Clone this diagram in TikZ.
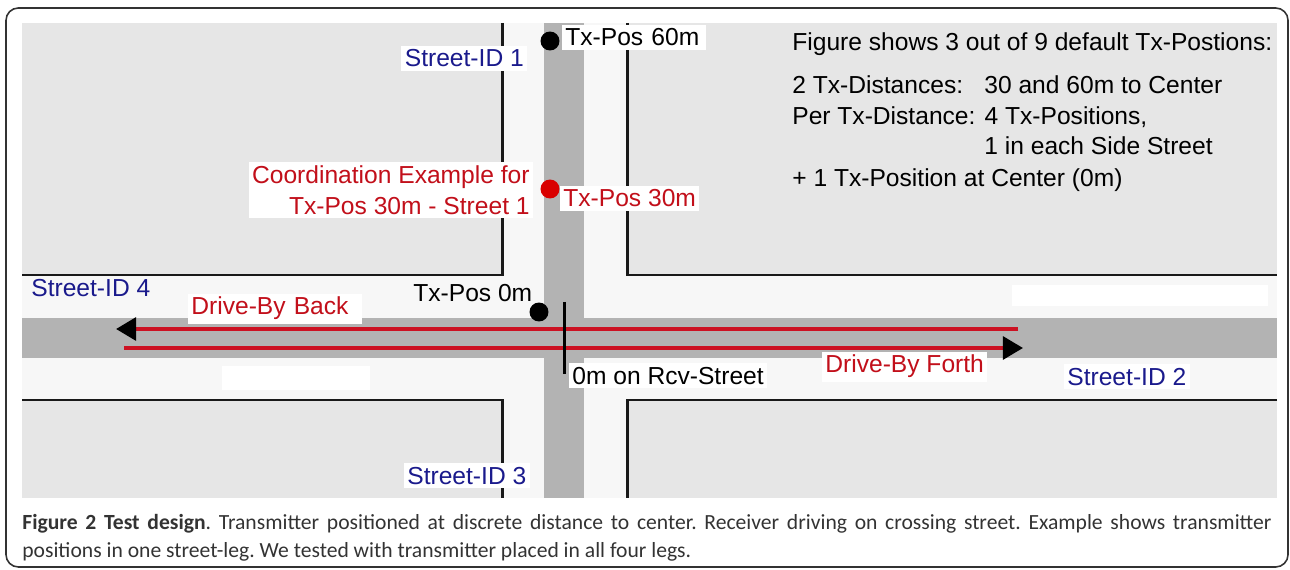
\documentclass[tikz,border=0pt]{standalone}
\usepackage{fontspec}
\setmainfont{Liberation Sans}
\newfontfamily\capfont{Carlito}
\usetikzlibrary{arrows.meta}
\definecolor{road}{HTML}{B3B3B3}
\definecolor{block}{HTML}{E6E6E6}
\definecolor{walk}{HTML}{F7F7F7}
\definecolor{drive}{HTML}{CC1122}
\definecolor{txtred}{HTML}{C20F1A}
\definecolor{txtblue}{HTML}{1A1A8C}
\definecolor{captxt}{HTML}{333333}
\tikzset{
  lbl/.style={fill=white, inner sep=2pt, font=\fontsize{14}{17.4}\selectfont},
  plain/.style={inner sep=0pt, font=\fontsize{14}{17.4}\selectfont},
  dot/.style={circle, fill=#1, minimum size=10.8pt, inner sep=0pt},
  wall/.style={line width=1.7pt, black!90},
  drivepath/.style={drive, line width=2.3pt, -{Triangle[length=11.5pt, width=13pt, color=black]}}
}
\begin{document}
\begin{tikzpicture}[x=0.02cm, y=-0.02cm]
\useasboundingbox (0,0) rectangle (1290,570);
\draw [rounded corners=7pt, line width=0.9pt, black!80] (6,8) rectangle (1288,567);

% map
\fill [walk] (22,23) rectangle (1277,498);
\begin{scope}
\fill [block] (22,23) rectangle (502,275);
\fill [block] (627,23) rectangle (1277,275);
\fill [block] (22,400) rectangle (502,498);
\fill [block] (627,400) rectangle (1277,498);
\draw [wall] (502,23) -- (502,275) -- (22,275);
\draw [wall] (627,23) -- (627,275) -- (1277,275);
\draw [wall] (22,400) -- (502,400) -- (502,498);
\draw [wall] (1277,400) -- (627,400) -- (627,498);
\fill [road] (544,23) rectangle (584,498);
\fill [road] (22,318) rectangle (1277,358);
\fill [white] (1012,285) rectangle (1268,306);
\fill [white] (222,366) rectangle (370,390);
\end{scope}

% drive paths
\coordinate (backEnd) at (1018,329);
\coordinate (backTip) at (116,329);
\coordinate (forthStart) at (124,348);
\coordinate (forthTip) at (1023,348);
\draw [drivepath] (backEnd) -- (backTip);
\draw [drivepath] (forthStart) -- (forthTip);

\coordinate (zeroTop) at (564,302);
\coordinate (zeroBot) at (564,374);
\draw [line width=1.7pt] (zeroTop) -- (zeroBot);

% tx positions
\node [dot=black] (tx60) at (550,41) {};
\node [dot=red!85!black] (tx30) at (550,189) {};
\node [dot=black] (tx0) at (539,312) {};

% labels
\node [lbl, anchor=base west, text width=78pt] (l60) at (561.5,46) {Tx-Pos 60m};
\node [lbl, anchor=base west, text=txtred] (l30) at (559.5,207) {Tx-Pos 30m};
\node [plain, anchor=base west] (l0) at (413,302) {Tx-Pos 0m};
\node [lbl, anchor=north east, align=right, text=txtred] (coord) at (533.5,162) {Coordination Example for\\Tx-Pos 30m - Street 1};
\node [lbl, anchor=base west, text=txtblue] (s1) at (401,67) {Street-ID 1};
\node [lbl, anchor=base west, text=txtblue] (s2) at (1063.5,385) {Street-ID 2};
\node [lbl, anchor=base west, text=txtblue] (s3) at (403.5,484) {Street-ID 3};
\node [plain, anchor=base west, text=txtblue] (s4) at (31,297) {Street-ID 4};
\node [lbl, anchor=base west, text=txtred, text width=95pt] (back) at (187.5,315) {Drive-By Back};
\node [lbl, anchor=base west, text=txtred] (forth) at (821.5,373) {Drive-By Forth};
\node [lbl, anchor=base west] (rcv) at (568.5,384) {0m on Rcv-Street};

% info text
\node [plain, anchor=base west] (info) at (792,51) {Figure shows 3 out of 9 default Tx-Postions:};
\node [plain, anchor=base west] (dist) at (792,94) {2 Tx-Distances:};
\node [plain, anchor=base west] (distval) at (984,94) {30 and 60m to Center};
\node [plain, anchor=base west] (per) at (792,125) {Per Tx-Distance: 4 Tx-Positions,};
\node [plain, anchor=base west] (side) at (984,155) {1 in each Side Street};
\node [plain, anchor=base west] (center) at (792,187) {+ 1 Tx-Position at Center (0m)};

% caption
\node [anchor=north west, inner sep=0pt, text width=711pt, align=justify, text=captxt,
  font=\capfont\fontsize{12.3}{15.9}\selectfont] (caption) at (22,514)
  {\frenchspacing\textbf{Figure 2 Test design}. Transmitter positioned at discrete distance to center. Receiver driving on crossing street. Example shows transmitter\linebreak positions in one street-leg. We tested with transmitter placed in all four legs.};
\end{tikzpicture}
\end{document}
